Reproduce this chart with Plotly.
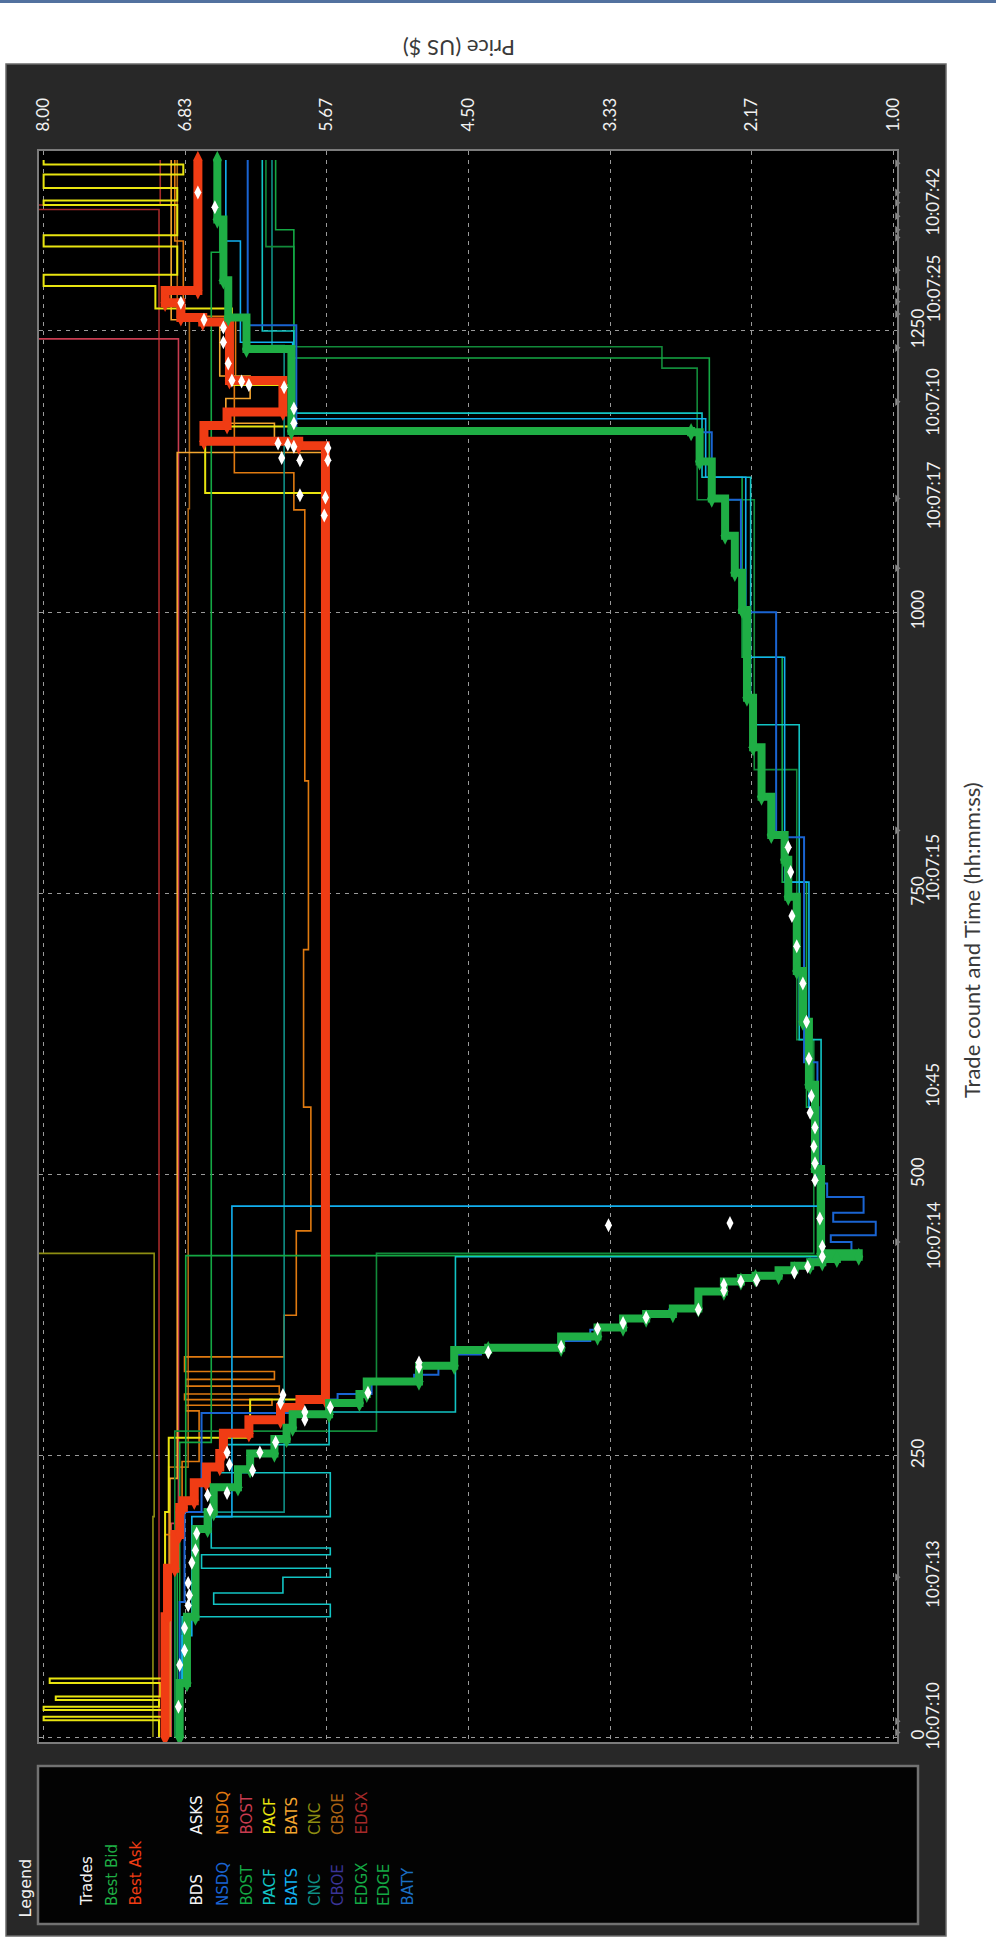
import plotly.graph_objects as go

# ---------------- data ----------------
price_tick_vals = [8.00, 6.83, 5.67, 4.50, 3.33, 2.17, 1.00]
price_tick_text = ["8.00", "6.83", "5.67", "4.50", "3.33", "2.17", "1.00"]
count_tick_vals = [0, 250, 500, 750, 1000, 1250]
count_tick_text = ["0", "250", "500", "750", "1000", "1250"]
time_label_counts = [19, 145, 446, 580, 773, 1104, 1187, 1288, 1365]
time_label_text = ["10:07:10", "10:07:13", "10:07:14", "10:45", "10:07:15",
                   "10:07:17", "10:07:10", "10:07:25", "10:07:42"]
time_marker_counts = [4, 14, 142, 440, 806, 1039, 1101, 1187, 1235, 1265, 1276,
                      1287, 1304, 1333, 1340, 1352, 1364, 1373, 1399]

# Best ask (count, price)
best_ask_counts = [0, 107, 150, 180, 204, 210, 226, 240, 252, 270, 282, 293, 300,
                   1148, 1152, 1166, 1178, 1206, 1258, 1262, 1275, 1286, 1402]
best_ask_prices = [7.00, 6.98, 6.92, 6.88, 6.85, 6.76, 6.66, 6.55, 6.52, 6.31, 6.05, 5.89, 5.68,
                   5.90, 6.68, 6.49, 6.03, 6.47, 6.69, 6.87, 7.00, 6.73, 6.73]

# Best bid (count, price)
best_bid_counts = [0, 48, 107, 185, 200, 222, 238, 252, 265, 275, 287, 297, 305, 316, 330,
                   344, 346, 356, 364, 372, 376, 381, 396, 405, 408, 410, 415, 419, 422,
                   425, 427, 430, 505, 580, 636, 681, 747, 780, 802, 836, 880, 924, 1002,
                   1035, 1068, 1101, 1134, 1160, 1161, 1234, 1262, 1295, 1349, 1402]
best_bid_prices = [6.88, 6.82, 6.75, 6.65, 6.60, 6.40, 6.30, 6.10, 6.00, 5.95, 5.65, 5.40, 5.34,
                   4.91, 4.62, 4.34, 3.74, 3.44, 3.23, 3.04, 2.82, 2.61, 2.40, 2.26, 2.14, 1.95,
                   1.82, 1.69, 1.59, 1.47, 1.29, 1.60, 1.65, 1.70, 1.75, 1.80, 1.87, 1.90, 2.01,
                   2.09, 2.16, 2.21, 2.25, 2.31, 2.39, 2.50, 2.60, 2.67, 5.96, 6.33, 6.48, 6.52,
                   6.57, 6.57]

# Trades (count, price)
trade_counts = [27, 64, 77, 97, 117, 126, 137, 155, 166, 181, 202, 215, 217, 237, 242, 253,
                253, 262, 282, 289, 293, 297, 304, 306, 329, 333, 342, 347, 363, 368, 373,
                380, 397, 402, 405, 406, 413, 418, 427, 436, 455, 457, 461, 495, 510, 525,
                542, 555, 570, 603, 636, 670, 703, 730, 769, 791, 1086, 1102, 1104, 1135,
                1135, 1137, 1146, 1147, 1149, 1150, 1168, 1181, 1200, 1202, 1205, 1206,
                1221, 1240, 1253, 1260, 1275, 1360, 1373]
trade_prices = [6.89, 6.88, 6.84, 6.84, 6.81, 6.80, 6.81, 6.78, 6.75, 6.74, 6.63, 6.65, 6.49,
                6.28, 6.47, 6.49, 6.22, 6.09, 5.85, 5.85, 5.64, 6.05, 6.03, 5.33, 4.91, 4.91,
                4.34, 3.74, 3.44, 3.23, 3.04, 2.61, 2.40, 2.40, 2.26, 2.13, 1.82, 1.71, 1.59,
                1.59, 3.35, 2.35, 1.61, 1.65, 1.65, 1.66, 1.65, 1.69, 1.68, 1.70, 1.72, 1.75,
                1.80, 1.84, 1.85, 1.87, 5.69, 5.68, 5.89, 5.66, 5.89, 6.04, 5.66, 5.94, 5.99,
                6.07, 5.94, 5.94, 6.02, 6.31, 6.37, 6.45, 6.48, 6.52, 6.52, 6.68, 6.87, 6.59,
                6.73]

# Bids by exchange
nsdq_bid_counts = [0, 120, 200, 288, 300, 305, 316, 322, 330, 340, 344, 346, 352, 362, 370,
                   375, 380, 396, 405, 410, 415, 420, 425, 430, 440, 446, 458, 466, 480, 492,
                   600, 800, 1000, 1100, 1160, 1255, 1402]
nsdq_bid_prices = [6.88, 6.84, 6.70, 5.64, 5.58, 5.30, 4.95, 4.75, 4.60, 4.40, 4.20, 3.76,
                   3.50, 3.25, 3.06, 2.85, 2.63, 2.42, 2.28, 1.97, 1.84, 1.70, 1.50, 1.35,
                   1.52, 1.15, 1.50, 1.25, 1.55, 1.63, 1.74, 1.97, 2.26, 2.50, 5.92, 6.32, 6.32]
bats_bid_counts = [0, 90, 196, 472, 560, 760, 960, 1120, 1172, 1240, 1330, 1402]
bats_bid_prices = [6.86, 6.78, 6.45, 1.62, 1.70, 1.90, 2.22, 2.55, 5.95, 6.38, 6.50, 6.50]
pacf_bid_counts = [0, 107, 118, 128, 142, 150, 162, 168, 196, 235, 260, 289, 427, 620, 900,
                   1120, 1177, 1250, 1402]
pacf_bid_prices = [6.86, 5.64, 6.60, 6.03, 5.64, 6.70, 5.64, 6.62, 5.64, 6.55, 5.65, 4.61,
                   1.60, 1.78, 2.18, 2.58, 5.94, 6.20, 6.20]
cnc_bid_counts = [0, 200, 1237, 1402]
cnc_bid_prices = [6.92, 6.02, 6.12, 6.12]
bost_bid_counts = [0, 262, 1320, 1402]
bost_bid_prices = [6.88, 6.62, 6.55, 6.55]
edgx_bid_counts = [0, 200, 428, 560, 760, 960, 1120, 1226, 1340, 1402]
edgx_bid_prices = [6.90, 6.83, 1.63, 1.72, 1.92, 2.25, 2.52, 5.94, 6.09, 6.09]
edge_bid_counts = [0, 272, 430, 620, 860, 1100, 1217, 1236, 1325, 1402]
edge_bid_prices = [6.92, 5.26, 1.66, 1.80, 2.15, 2.62, 2.91, 5.94, 6.17, 6.17]

# Asks by exchange
nsdq_ask_counts = [0, 180, 245, 290, 295, 300, 305, 312, 318, 325, 338, 375, 450, 560, 700,
                   850, 1091, 1124, 1203, 1263, 1330, 1402]
nsdq_ask_prices = [7.00, 6.86, 6.72, 6.83, 6.12, 6.84, 6.06, 6.83, 6.10, 6.84, 6.02, 5.92,
                   5.80, 5.86, 5.82, 5.85, 5.94, 6.43, 6.42, 6.85, 6.92, 6.92]
bost_ask_counts = [0, 190, 1243, 1402]
bost_ask_prices = [6.95, 6.89, 8.10, 8.10]
pacf_ask_counts = [0, 15, 18, 24, 27, 33, 36, 48, 52, 200, 266, 300, 1106, 1165, 1202, 1270,
                   1290, 1300, 1325, 1335, 1362, 1366, 1377, 1389, 1398, 1402]
pacf_ask_prices = [7.05, 8.00, 7.02, 8.00, 7.05, 7.90, 7.04, 7.95, 7.00, 6.97, 6.30, 5.70,
                   6.67, 5.94, 6.45, 7.08, 8.00, 6.90, 8.00, 6.90, 8.00, 6.90, 8.00, 6.85,
                   8.00, 8.00]
bats_ask_counts = [0, 230, 1142, 1150, 1168, 1190, 1210, 1260, 1402]
bats_ask_prices = [6.96, 6.90, 5.66, 6.10, 6.50, 6.30, 6.55, 6.95, 6.95]
cnc_ask_counts = [0, 196, 430, 1402]
cnc_ask_prices = [7.10, 7.09, 8.10, 8.10]
cboe_ask_counts = [0, 240, 1092, 1263, 1402]
cboe_ask_prices = [6.97, 6.81, 6.80, 6.90, 6.90]
edgx_ask_counts = [0, 1358, 1362, 1402]
edgx_ask_prices = [7.05, 8.10, 7.04, 7.04]

legend_bid_names = ["NSDQ", "BOST", "PACF", "BATS", "CNC", "CBOE", "EDGX", "EDGE", "BATY"]
legend_ask_names = ["NSDQ", "BOST", "PACF", "BATS", "CNC", "CBOE", "EDGX"]

# ---------------- styling ----------------
BID_COL = {"NSDQ": "#1a64d2", "BOST": "#14a844", "PACF": "#12c4c4", "BATS": "#12b0f0",
           "CNC": "#0f8f86", "CBOE": "#3a3496", "EDGX": "#14a844", "EDGE": "#14a844",
           "BATY": "#1a6ec4"}
ASK_COL = {"NSDQ": "#e07a10", "BOST": "#c83c50", "PACF": "#e8e410", "BATS": "#f4a630",
           "CNC": "#8e8e12", "CBOE": "#ad6414", "EDGX": "#a52a2a"}
BEST_BID = "#1fae45"
BEST_ASK = "#f03c14"

W, H = 996, 1952
PL, PR, PT, PB = 39, 897, 151, 1742


def px_x(px):
    return (px - PL) / (PR - PL)


def px_y(py):
    return (PB - py) / (PB - PT)


fig = go.Figure()


def step_line(counts, prices, color, width=1.6, opacity=1.0):
    fig.add_trace(go.Scatter(x=prices, y=counts, mode="lines",
                             line=dict(color=color, width=width, shape="vh"),
                             opacity=opacity, hoverinfo="skip", showlegend=False))


# asks
step_line(edgx_ask_counts, edgx_ask_prices, ASK_COL["EDGX"])
step_line(bost_ask_counts, bost_ask_prices, ASK_COL["BOST"])
step_line(cnc_ask_counts, cnc_ask_prices, ASK_COL["CNC"])
step_line(cboe_ask_counts, cboe_ask_prices, ASK_COL["CBOE"])
step_line(bats_ask_counts, bats_ask_prices, ASK_COL["BATS"])
step_line(nsdq_ask_counts, nsdq_ask_prices, ASK_COL["NSDQ"])
step_line(pacf_ask_counts, pacf_ask_prices, ASK_COL["PACF"], width=2)
# bids
step_line(cnc_bid_counts, cnc_bid_prices, BID_COL["CNC"])
step_line(bost_bid_counts, bost_bid_prices, BID_COL["BOST"])
step_line(edge_bid_counts, edge_bid_prices, "#128a3a")
step_line(edgx_bid_counts, edgx_bid_prices, BID_COL["EDGX"])
step_line(pacf_bid_counts, pacf_bid_prices, BID_COL["PACF"])
step_line(bats_bid_counts, bats_bid_prices, BID_COL["BATS"])
step_line(nsdq_bid_counts, nsdq_bid_prices, BID_COL["NSDQ"], width=2)

# best ask / best bid
fig.add_trace(go.Scatter(x=best_ask_prices, y=best_ask_counts, mode="lines+markers",
                         line=dict(color=BEST_ASK, width=9, shape="vh"),
                         marker=dict(color=BEST_ASK, size=13, symbol="diamond-tall"),
                         hoverinfo="skip", showlegend=False))
fig.add_trace(go.Scatter(x=best_bid_prices, y=best_bid_counts, mode="lines+markers",
                         line=dict(color=BEST_BID, width=8, shape="vh"),
                         marker=dict(color=BEST_BID, size=13, symbol="diamond-tall"),
                         hoverinfo="skip", showlegend=False))
# trades
fig.add_trace(go.Scatter(x=trade_prices, y=trade_counts, mode="markers",
                         marker=dict(color="white", size=10, symbol="diamond-tall"),
                         hoverinfo="skip", showlegend=False))
# time tick markers on the right edge
fig.add_trace(go.Scatter(x=[0.975] * len(time_marker_counts), y=time_marker_counts,
                         mode="markers", cliponaxis=False,
                         marker=dict(color="#8a8a8a", size=7, symbol="triangle-right"),
                         hoverinfo="skip", showlegend=False))

PANEL = "#282828"
shapes = [
    dict(type="rect", xref="paper", yref="paper", x0=px_x(6), x1=px_x(946), y0=px_y(64), y1=px_y(PT),
         fillcolor=PANEL, line=dict(width=0), layer="below"),
    dict(type="rect", xref="paper", yref="paper", x0=px_x(6), x1=px_x(946), y0=px_y(PB), y1=px_y(1936),
         fillcolor=PANEL, line=dict(width=0), layer="below"),
    dict(type="rect", xref="paper", yref="paper", x0=px_x(6), x1=px_x(PL), y0=px_y(PT), y1=px_y(PB),
         fillcolor=PANEL, line=dict(width=0), layer="below"),
    dict(type="rect", xref="paper", yref="paper", x0=px_x(PR), x1=px_x(946), y0=px_y(PT), y1=px_y(PB),
         fillcolor=PANEL, line=dict(width=0), layer="below"),
    dict(type="rect", xref="paper", yref="paper", x0=px_x(6), x1=px_x(946), y0=px_y(64), y1=px_y(1936),
         fillcolor="rgba(0,0,0,0)", line=dict(color="#6a6a6a", width=1.5)),
    dict(type="rect", xref="paper", yref="paper", x0=px_x(38), x1=px_x(918), y0=px_y(1766), y1=px_y(1924),
         fillcolor="#030303", line=dict(color="#727272", width=2.5)),
    dict(type="line", xref="paper", yref="paper", x0=px_x(0), x1=px_x(996), y0=px_y(1.5), y1=px_y(1.5),
         line=dict(color="#52719f", width=3)),
]

ann = []
TICKFONT = dict(family="Lato, Open Sans, sans-serif", size=17, color="#f2f2f2")
for c, t in zip(time_label_counts, time_label_text):
    ann.append(dict(x=px_x(933), y=c, xref="paper", yref="y", text=t, showarrow=False,
                    textangle=-90, xanchor="center", yanchor="middle", font=TICKFONT))

ann.append(dict(x=px_x(971), y=px_y(940), xref="paper", yref="paper",
                text="Trade count and Time (hh:mm:ss)", showarrow=False, textangle=-90,
                xanchor="center", yanchor="middle",
                font=dict(family="Lato, sans-serif", size=22, color="#3a3a3a")))
ann.append(dict(x=px_x(459), y=px_y(48), xref="paper", yref="paper",
                text="Price (US $)", showarrow=False, textangle=180,
                xanchor="center", yanchor="middle",
                font=dict(family="Lato, sans-serif", size=22, color="#3a3a3a")))

LF = "DejaVu Sans, sans-serif"


def leg(text, xpx, bottom_px, color, size=15):
    ann.append(dict(x=px_x(xpx), y=px_y(bottom_px), xref="paper", yref="paper", text=text,
                    showarrow=False, textangle=-90, xanchor="center", yanchor="bottom",
                    font=dict(family=LF, size=size, color=color)))


leg("Legend", 25, 1920, "#f0f0f0", 16)
leg("Trades", 87, 1908, "#f4f4f4")
leg("Best Bid", 112, 1908, BEST_BID)
leg("Best Ask", 135, 1908, BEST_ASK)
leg("BDS", 196, 1908, "#f4f4f4")
for i, n in enumerate(legend_bid_names):
    leg(n, 223 + 23 * i, 1908, BID_COL[n])
leg("ASKS", 196, 1837, "#f4f4f4")
for i, n in enumerate(legend_ask_names):
    leg(n, 223 + 23 * i, 1837, ASK_COL[n])

fig.update_layout(
    width=W, height=H,
    margin=dict(l=PL, r=W - PR, t=PT, b=H - PB, pad=0),
    paper_bgcolor="white", plot_bgcolor="black",
    shapes=shapes, annotations=ann, showlegend=False,
    xaxis=dict(range=[8.038, 0.975], side="top", tickmode="array",
               tickvals=price_tick_vals, ticktext=price_tick_text, tickangle=-90,
               tickfont=TICKFONT, ticks="outside", ticklen=14, tickcolor="rgba(0,0,0,0)",
               showgrid=True, gridcolor="#9a9a9a", gridwidth=1.2, griddash="4px,5px",
               zeroline=False, showline=True, linecolor="#7c7c7c", linewidth=2, mirror=True,
               fixedrange=True),
    yaxis=dict(range=[-4.4, 1410], side="right", tickmode="array",
               tickvals=count_tick_vals, ticktext=count_tick_text, tickangle=-90,
               tickfont=TICKFONT, ticks="outside", ticklen=5, tickcolor="rgba(0,0,0,0)",
               showgrid=True, gridcolor="#9a9a9a", gridwidth=1.2, griddash="4px,5px",
               zeroline=False, showline=True, linecolor="#7c7c7c", linewidth=2, mirror=True,
               fixedrange=True),
)

fig.write_html("out.html", config={"displayModeBar": False},
               post_script="document.body.style.margin='0';document.body.style.overflow='hidden';")
